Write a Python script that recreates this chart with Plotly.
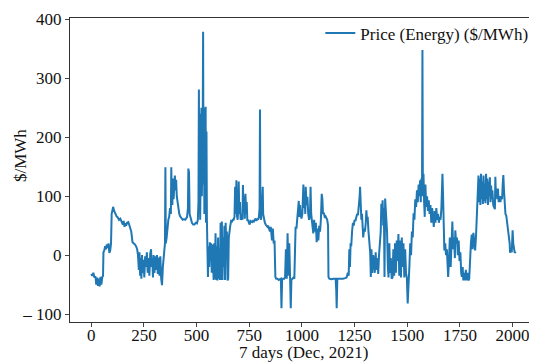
import plotly.graph_objects as go

# sample index (5-minute steps over 7 days) and energy price ($/MWh)
idx = [0,5,10,15,20,24,28,32,36,40,44,48,52,56,58,62,66,70,74,78,82,86,90,94,
       97,100,104,108,114,120,126,132,138,144,150,154,158,162,166,170,176,180,185,190,196,202,208,214,218,222,
       226,229,232,235,238,241,244,248,252,256,260,264,268,272,276,280,284,287,290,293,296,300,304,308,312,316,320,324,328,332,336,340,344,
       347,350,352,354,358,362,366,370,374,378,380,382,385,388,391,394,397,400,403,406,410,414,418,422,428,434,440,446,450,455,459,461,464,467,472,478,484,490,496,502,506,509,511,513,515,517,519,521,523,525,527,529,531,533,535,537,539,541,543,545,547,549,
       551,554,557,560,563,566,569,572,575,578,581,584,587,590,593,596,599,602,605,608,611,614,617,620,623,626,629,632,635,638,641,644,647,650,653,656,660,664,668,672,676,680,683,686,689,692,695,
       698,700,703,706,709,712,715,718,720,723,726,729,732,735,738,741,744,748,752,756,760,764,768,772,776,780,784,788,792,796,799,801,803,806,810,814,816,820,824,828,832,836,840,844,848,852,856,858,862,866,870,874,878,884,890,896,900,903,906,910,916,920,924,928,932,936,940,944,947,950,954,960,964,967,970,974,978,981,985,988,991,994,998,1002,1005,1007,1010,1013,1016,1018,1022,1026,1030,1034,1038,1041,1044,1047,1050,1054,
       1058,1062,1066,1070,1074,1078,1082,1086,1090,1094,1097,1100,1104,1108,1112,1116,1120,1124,1126,1130,1140,1150,1160,1163,1165,1168,1175,1185,1195,1205,1212,1218,1222,1225,1228,1231,1234,1238,1242,1246,1250,1254,1258,1262,1266,1270,1274,1276,1279,1282,1285,1288,1291,1295,1299,1303,1306,1309,1312,1316,1320,1324,1327,1330,1334,1338,1342,1346,1350,1354,1358,1362,1366,1370,1374,1377,1380,1383,1386,1389,1392,1395,1400,1404,1408,1411,
       1415,1418,1422,1426,1430,1434,1438,1442,1446,1450,1454,1458,1462,1466,1470,1474,1478,1482,1486,1490,1494,1498,1502,1506,1510,1514,1518,1522,1526,1530,1534,1538,1542,1546,1550,1554,1558,1561,1564,1567,1570,1572,1574,1577,1580,1583,1586,1590,1594,1598,1602,1606,1610,1614,1618,1622,1626,1630,1634,1638,1642,1646,1650,1654,1658,1662,1665,1667,1670,1673,1676,1680,1684,1688,1691,1694,1698,1702,1706,1710,1714,1718,1722,1726,1728,1732,1736,1740,1744,1748,1752,1756,1759,1763,1766,1770,1774,1778,1782,1786,1790,1794,1798,1802,1806,1810,1814,1818,1822,1826,1830,1834,1838,
       1841,1844,1847,1850,1853,1856,1859,1862,1865,1868,1871,1874,1877,1880,1883,1886,1889,1892,1895,1898,1901,1904,1908,1912,1916,1918,1921,1924,1927,1930,1934,1938,1942,1946,1950,1953,1956,1959,1962,1966,1970,1974,1978,1982,1986,1988,1992,1996,2000,2003,2006,2010,2015]

price = [-32,-35,-30,-38,-36,-50,-38,-52,-40,-53,-37,-50,-38,-35,5,8,15,10,18,12,20,4,8,20,
         70,78,82,76,70,66,64,60,62,56,52,58,48,54,50,55,56,52,44,40,22,20,18,14,10,0,
         -25,5,-35,-5,-40,0,-30,-8,-38,-2,-20,5,-30,-5,-35,2,10,-20,-5,-38,0,-30,-2,-25,0,-32,-4,-35,-2,-40,-51,-20,5,
         10,20,149,20,30,55,60,65,80,70,149,100,85,130,95,115,135,110,128,100,90,76,70,66,62,60,61,60,62,65,80,147,140,70,60,55,52,52,55,54,60,90,281,100,240,60,200,90,250,100,150,200,379,120,245,70,250,90,252,55,210,60,
         -5,-37,15,-20,22,-10,20,-30,18,-5,-42,20,-40,37,-42,15,-43,30,-40,10,-42,55,-42,57,-42,30,-20,50,-42,55,10,40,-43,-40,30,45,50,58,57,60,60,65,116,70,127,66,60,
         80,125,70,90,60,62,70,60,119,75,100,62,104,70,90,58,60,55,52,58,57,56,58,57,60,62,58,62,60,65,80,247,70,60,80,116,70,60,55,52,50,48,50,46,40,48,35,25,45,20,25,-37,-40,-40,-42,-41,-40,-90,-42,-40,-40,-38,10,-40,37,-35,20,-40,-90,-42,-40,-38,-40,30,48,45,60,72,92,65,85,68,62,70,100,120,80,95,70,116,85,99,70,60,65,116,70,60,50,37,
         60,40,55,22,45,25,50,40,60,104,95,70,72,65,66,64,60,50,-37,-40,-41,-40,-40,-60,-90,-40,-40,-41,-40,-39,-38,-30,-35,10,-20,20,15,40,55,50,60,58,65,70,68,80,100,116,95,60,70,50,30,45,40,55,76,60,65,40,20,5,-37,10,-30,0,-10,-30,5,-25,-5,-32,0,20,40,87,70,93,50,80,-37,96,60,40,-20,-38,
         20,-30,-5,-40,-38,10,-35,20,-30,25,-10,36,-35,25,-38,30,-20,20,-38,10,-30,-38,-82,-30,-20,20,0,40,30,71,60,95,82,110,90,120,100,127,90,130,100,348,110,138,90,65,120,82,100,75,93,70,85,55,80,60,48,75,55,80,60,70,55,65,60,80,110,138,100,40,8,20,0,10,-20,-37,-10,30,-20,40,57,10,30,-5,42,20,30,0,25,-10,5,-30,-37,-20,-43,-30,-43,-25,-43,-30,-43,-40,-1,20,35,10,38,20,8,30,71,100,135,
         90,130,85,138,95,125,87,135,92,120,88,138,95,130,85,125,100,132,90,118,95,110,85,80,78,133,100,113,95,113,90,100,90,100,95,120,136,110,90,70,67,55,45,38,20,4,10,5,42,20,8,4,6]

y_tickvals = [-100, 0, 100, 200, 300, 400]
y_ticktext = ["\u2012 100", "0", "100", "200", "300", "400"]
x_tickvals = [0, 250, 500, 750, 1000, 1250, 1500, 1750, 2000]

FONT = "Liberation Serif"

# the page body has an 8px default margin, so the figure is sized to fit inside the window
fig = go.Figure()
fig.add_trace(go.Scatter(x=idx, y=price, mode="lines", name="Price (Energy) ($/MWh)",
                         line=dict(color="#1f77b4", width=2)))

fig.update_layout(
    width=529, height=354,
    margin=dict(l=62, r=0, t=10, b=40),
    plot_bgcolor="white", paper_bgcolor="white",
    font=dict(family=FONT, size=17, color="#111"),
    showlegend=True,
    legend=dict(x=0.536, y=1.008, xanchor="left", yanchor="top", bgcolor="rgba(0,0,0,0)",
                font=dict(family=FONT, size=17), itemwidth=30),
    xaxis=dict(range=[-100.75, 2115.75], tickvals=x_tickvals, ticks="outside", ticklen=4,
               ticklabelstandoff=-6,
               showline=True, linecolor="#333", linewidth=1, mirror=True, showgrid=False, zeroline=False,
               tickfont=dict(family=FONT, size=17)),
    yaxis=dict(range=[-113.45, 402.45], tickvals=y_tickvals, ticktext=y_ticktext, ticks="outside", ticklen=4,
               showline=True, linecolor="#333", linewidth=1, showgrid=False, zeroline=False,
               tickfont=dict(family=FONT, size=17)),
    annotations=[
        dict(text="$/MWh", textangle=-90, xref="paper", yref="paper",
             x=-0.107, y=0.546, xanchor="center", yanchor="middle", showarrow=False,
             font=dict(family=FONT, size=17)),
        dict(text="7 days (Dec, 2021)", xref="paper", yref="paper",
             x=0.5, y=-0.099, xanchor="center", yanchor="middle", showarrow=False,
             font=dict(family=FONT, size=17)),
    ],
)

fig.write_html("out.html")
